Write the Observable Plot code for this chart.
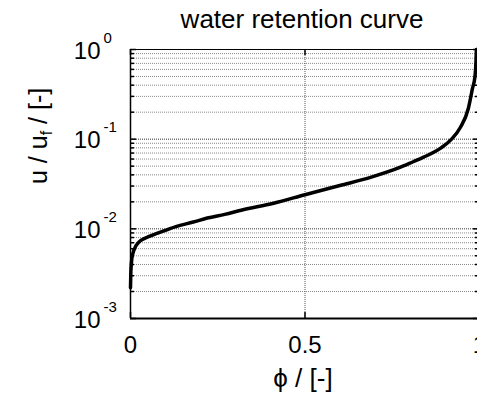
<!DOCTYPE html>
<html>
<head>
<meta charset="utf-8">
<script src="https://cdn.jsdelivr.net/npm/d3@7"></script>
<script src="https://cdn.jsdelivr.net/npm/@observablehq/plot@0.6"></script>
<style>
  html, body { margin: 0; padding: 0; background: #fff; overflow: hidden; }
  #chart svg { display: block; max-width: none !important; }
</style>
</head>
<body>
<div id="chart"></div>
<script>
// Saturation ϕ and normalised suction u/u_f along the retention curve
const phi = [0, 0.001, 0.004, 0.01, 0.024, 0.043, 0.08, 0.13, 0.18, 0.22, 0.27, 0.32, 0.41, 0.5,
             0.6, 0.69, 0.77, 0.81, 0.84, 0.89, 0.92, 0.945, 0.968, 0.98, 0.987, 0.99, 0.991];
const u = [0.0022, 0.0033, 0.0047, 0.0058, 0.0071, 0.0079, 0.0090, 0.0106, 0.0119, 0.0132, 0.0145,
           0.0162, 0.0193, 0.0240, 0.0304, 0.0377, 0.048, 0.056, 0.063, 0.080, 0.100, 0.135,
           0.22, 0.37, 0.5, 0.75, 1.0];

// Axis ticks and labels
const xTicks = [0, 0.5, 1];
const xTickLabels = ["0", "0.5", "1"];
const yDecades = [1e-3, 1e-2, 1e-1, 1];
const yExponents = ["-3", "-2", "-1", "0"];
const minorSteps = [2, 3, 4, 5, 6, 7, 8, 9];
const yMinor = yDecades.slice(0, -1).flatMap(d => minorSteps.map(k => k * d));

const titleText = "water retention curve";
const xLabel = "ϕ / [-]";
const yLabel = "u / uf / [-]";

const data = phi.map((p, i) => ({phi: p, u: u[i]}));

const font = "'Liberation Sans', Arial, Helvetica, sans-serif";
const xMin = 0, xMax = 1, yMin = 1e-3, yMax = 1;
// tick lengths expressed in data units (x: per 349 px, y: per 89.7 px decade)
const majX = 6 / 349, minX = 4 / 349;
const tickUp = Math.pow(10, 6 / 89.7);

const chart = Plot.plot({
  width: 500,
  height: 395,
  marginLeft: 130,
  marginRight: 21,
  marginTop: 49,
  marginBottom: 77,
  style: {fontFamily: font, background: "#fff", color: "#000", maxWidth: "none"},
  x: {domain: [xMin, xMax], axis: null},
  y: {type: "log", domain: [yMin, yMax], axis: null},
  marks: [
    // grid
    Plot.ruleY(yMinor, {x1: xMin, x2: xMax, stroke: "#8a8a8a", strokeWidth: 1, strokeDasharray: "1,1"}),
    Plot.ruleY(yDecades, {x1: xMin, x2: xMax, stroke: "#333", strokeWidth: 1, strokeDasharray: "1,1"}),
    Plot.ruleX([0.5], {y1: yMin, y2: yMax, stroke: "#555", strokeWidth: 1, strokeDasharray: "1,1"}),
    // curve
    Plot.line(data, {x: "phi", y: "u", stroke: "#000", strokeWidth: 3.5, curve: "monotone-x"}),
    // box
    Plot.ruleY([yMax], {x1: xMin, x2: xMax, stroke: "#000", strokeWidth: 1}),
    Plot.ruleY([yMin], {x1: xMin, x2: xMax, stroke: "#000", strokeWidth: 2}),
    Plot.ruleX([xMin], {y1: yMin, y2: yMax, stroke: "#000", strokeWidth: 1.5}),
    Plot.ruleX([xMax], {y1: yMin, y2: yMax, stroke: "#000", strokeWidth: 1}),
    // y ticks (left and right, inward)
    Plot.ruleY(yDecades, {x1: xMin, x2: xMin + majX, stroke: "#000", strokeWidth: 1.5}),
    Plot.ruleY(yMinor, {x1: xMin, x2: xMin + minX, stroke: "#000", strokeWidth: 1.5}),
    Plot.ruleY(yDecades, {x1: xMax - majX, x2: xMax, stroke: "#000", strokeWidth: 1.5}),
    Plot.ruleY(yMinor, {x1: xMax - minX, x2: xMax, stroke: "#000", strokeWidth: 1.5}),
    // x ticks (bottom and top, inward)
    Plot.ruleX(xTicks, {y1: yMin, y2: yMin * tickUp, stroke: "#000", strokeWidth: 1.5}),
    Plot.ruleX(xTicks, {y1: yMax / tickUp, y2: yMax, stroke: "#000", strokeWidth: 1.5}),
    // y tick labels: base and exponent
    Plot.text(yDecades, {x: xMin, y: d => d, text: () => "10", textAnchor: "end", lineAnchor: "bottom",
      dx: -30, dy: 9, fontSize: 24, fill: "#000"}),
    Plot.text(yDecades, {x: xMin, y: d => d, text: (d, i) => yExponents[i], textAnchor: "start", lineAnchor: "bottom",
      dx: -27, dy: -7, fontSize: 15, fill: "#000"}),
    // x tick labels
    Plot.text(xTicks, {x: d => d, y: yMin, text: (d, i) => xTickLabels[i], textAnchor: "middle", lineAnchor: "bottom",
      dy: 34, fontSize: 24, fill: "#000"}),
    // title and axis labels
    Plot.text([titleText], {frameAnchor: "top", text: d => d, lineAnchor: "bottom", dy: -22, dx: -3, fontSize: 26, fill: "#000"}),
    Plot.text([xLabel], {frameAnchor: "bottom", text: d => d, lineAnchor: "bottom", dy: 68, dx: -2, fontSize: 26, fill: "#000"}),
    Plot.text([yLabel], {frameAnchor: "left", text: d => d, rotate: -90, lineAnchor: "bottom", dx: -84, fontSize: 25, fill: "#000"})
  ]
});
chart.style.maxWidth = "none";

// subscript "f" in the y label
d3.select(chart).selectAll("text").filter(function () { return this.textContent === yLabel; })
  .each(function () {
    const t = d3.select(this);
    t.text(null);
    t.append("tspan").text("u / u");
    t.append("tspan").attr("dy", 5).attr("font-size", 16).text("f");
    t.append("tspan").attr("dy", -5).text(" / [-]");
  });

document.getElementById("chart").appendChild(chart);
</script>
</body>
</html>
